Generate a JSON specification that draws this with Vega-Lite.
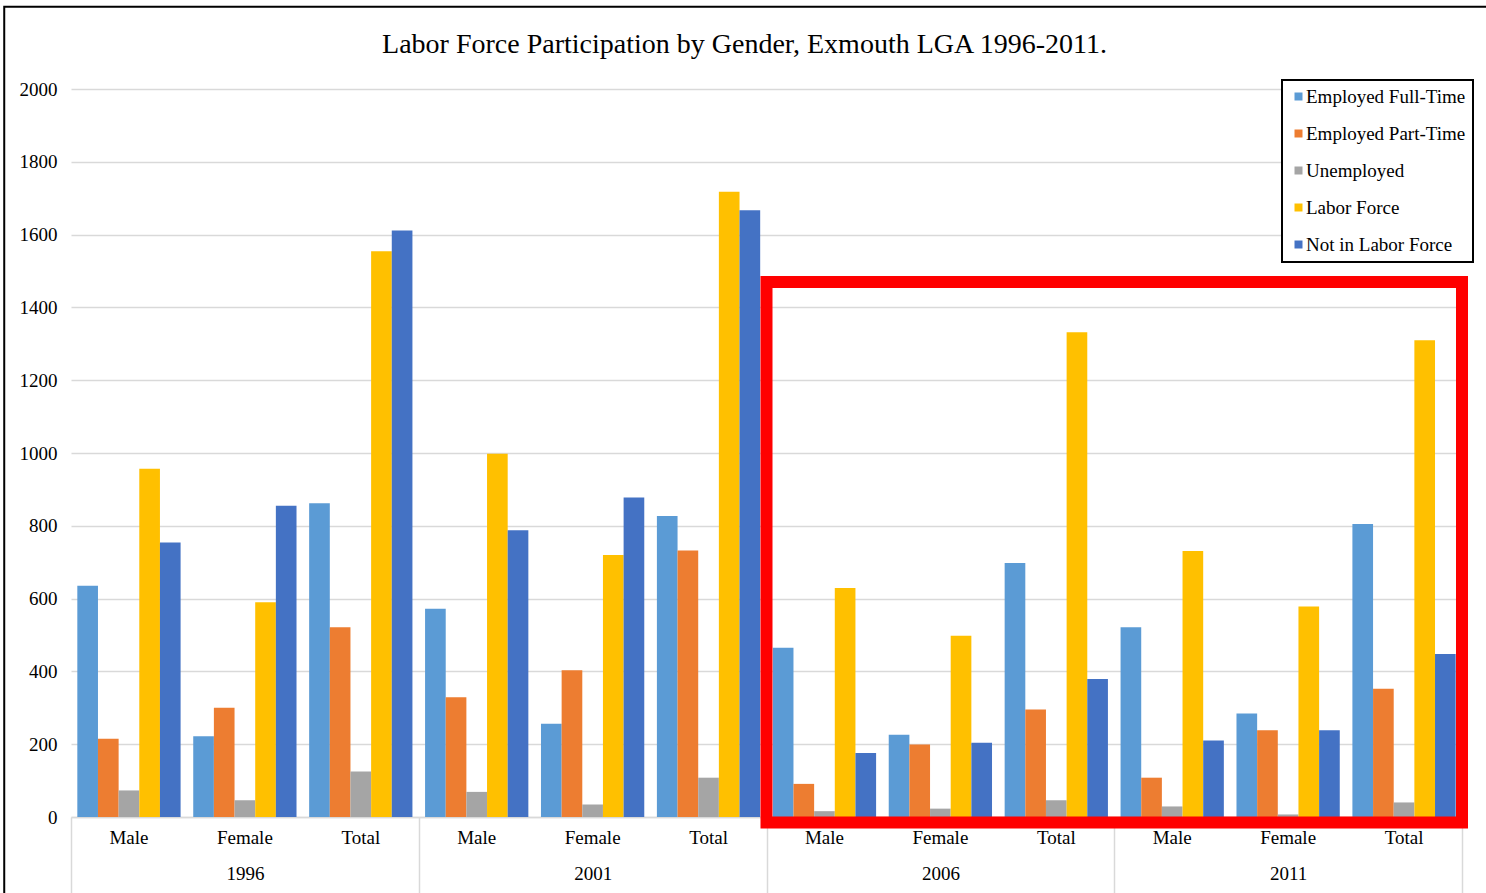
{
  "$schema": "https://vega.github.io/schema/vega-lite/v6.json",
  "autosize": "none",
  "width": 1391,
  "height": 728,
  "padding": {"left": 71, "top": 89, "right": 24, "bottom": 76},
  "background": "white",
  "config": {
    "view": {"stroke": null},
    "font": "Liberation Serif",
    "legend": {"strokeWidth": 2}
  },
  "title": {
    "text": "Labor Force Participation by Gender, Exmouth LGA 1996-2011.",
    "font": "Liberation Serif",
    "fontSize": 28,
    "fontWeight": "normal",
    "color": "black",
    "anchor": "middle",
    "frame": "group",
    "dx": -22,
    "offset": -53
  },
  "layer": [
    {
      "data": {
        "values": [
          {"year": "1996", "gender": "Male", "group": "1996 Male", "series": "Employed Full-Time", "value": 635},
          {"year": "1996", "gender": "Male", "group": "1996 Male", "series": "Employed Part-Time", "value": 215},
          {"year": "1996", "gender": "Male", "group": "1996 Male", "series": "Unemployed", "value": 73},
          {"year": "1996", "gender": "Male", "group": "1996 Male", "series": "Labor Force", "value": 957},
          {"year": "1996", "gender": "Male", "group": "1996 Male", "series": "Not in Labor Force", "value": 754},
          {"year": "1996", "gender": "Female", "group": "1996 Female", "series": "Employed Full-Time", "value": 222},
          {"year": "1996", "gender": "Female", "group": "1996 Female", "series": "Employed Part-Time", "value": 300},
          {"year": "1996", "gender": "Female", "group": "1996 Female", "series": "Unemployed", "value": 46},
          {"year": "1996", "gender": "Female", "group": "1996 Female", "series": "Labor Force", "value": 590},
          {"year": "1996", "gender": "Female", "group": "1996 Female", "series": "Not in Labor Force", "value": 855},
          {"year": "1996", "gender": "Total", "group": "1996 Total", "series": "Employed Full-Time", "value": 862},
          {"year": "1996", "gender": "Total", "group": "1996 Total", "series": "Employed Part-Time", "value": 521},
          {"year": "1996", "gender": "Total", "group": "1996 Total", "series": "Unemployed", "value": 125},
          {"year": "1996", "gender": "Total", "group": "1996 Total", "series": "Labor Force", "value": 1554},
          {"year": "1996", "gender": "Total", "group": "1996 Total", "series": "Not in Labor Force", "value": 1611},
          {"year": "2001", "gender": "Male", "group": "2001 Male", "series": "Employed Full-Time", "value": 572},
          {"year": "2001", "gender": "Male", "group": "2001 Male", "series": "Employed Part-Time", "value": 329},
          {"year": "2001", "gender": "Male", "group": "2001 Male", "series": "Unemployed", "value": 69},
          {"year": "2001", "gender": "Male", "group": "2001 Male", "series": "Labor Force", "value": 998},
          {"year": "2001", "gender": "Male", "group": "2001 Male", "series": "Not in Labor Force", "value": 788},
          {"year": "2001", "gender": "Female", "group": "2001 Female", "series": "Employed Full-Time", "value": 256},
          {"year": "2001", "gender": "Female", "group": "2001 Female", "series": "Employed Part-Time", "value": 403},
          {"year": "2001", "gender": "Female", "group": "2001 Female", "series": "Unemployed", "value": 34},
          {"year": "2001", "gender": "Female", "group": "2001 Female", "series": "Labor Force", "value": 720},
          {"year": "2001", "gender": "Female", "group": "2001 Female", "series": "Not in Labor Force", "value": 878},
          {"year": "2001", "gender": "Total", "group": "2001 Total", "series": "Employed Full-Time", "value": 827},
          {"year": "2001", "gender": "Total", "group": "2001 Total", "series": "Employed Part-Time", "value": 732},
          {"year": "2001", "gender": "Total", "group": "2001 Total", "series": "Unemployed", "value": 108},
          {"year": "2001", "gender": "Total", "group": "2001 Total", "series": "Labor Force", "value": 1718},
          {"year": "2001", "gender": "Total", "group": "2001 Total", "series": "Not in Labor Force", "value": 1667},
          {"year": "2006", "gender": "Male", "group": "2006 Male", "series": "Employed Full-Time", "value": 465},
          {"year": "2006", "gender": "Male", "group": "2006 Male", "series": "Employed Part-Time", "value": 91},
          {"year": "2006", "gender": "Male", "group": "2006 Male", "series": "Unemployed", "value": 16},
          {"year": "2006", "gender": "Male", "group": "2006 Male", "series": "Labor Force", "value": 629},
          {"year": "2006", "gender": "Male", "group": "2006 Male", "series": "Not in Labor Force", "value": 176},
          {"year": "2006", "gender": "Female", "group": "2006 Female", "series": "Employed Full-Time", "value": 226},
          {"year": "2006", "gender": "Female", "group": "2006 Female", "series": "Employed Part-Time", "value": 199},
          {"year": "2006", "gender": "Female", "group": "2006 Female", "series": "Unemployed", "value": 23},
          {"year": "2006", "gender": "Female", "group": "2006 Female", "series": "Labor Force", "value": 498},
          {"year": "2006", "gender": "Female", "group": "2006 Female", "series": "Not in Labor Force", "value": 204},
          {"year": "2006", "gender": "Total", "group": "2006 Total", "series": "Employed Full-Time", "value": 698},
          {"year": "2006", "gender": "Total", "group": "2006 Total", "series": "Employed Part-Time", "value": 295},
          {"year": "2006", "gender": "Total", "group": "2006 Total", "series": "Unemployed", "value": 46},
          {"year": "2006", "gender": "Total", "group": "2006 Total", "series": "Labor Force", "value": 1332},
          {"year": "2006", "gender": "Total", "group": "2006 Total", "series": "Not in Labor Force", "value": 379},
          {"year": "2011", "gender": "Male", "group": "2011 Male", "series": "Employed Full-Time", "value": 521},
          {"year": "2011", "gender": "Male", "group": "2011 Male", "series": "Employed Part-Time", "value": 108},
          {"year": "2011", "gender": "Male", "group": "2011 Male", "series": "Unemployed", "value": 29},
          {"year": "2011", "gender": "Male", "group": "2011 Male", "series": "Labor Force", "value": 731},
          {"year": "2011", "gender": "Male", "group": "2011 Male", "series": "Not in Labor Force", "value": 210},
          {"year": "2011", "gender": "Female", "group": "2011 Female", "series": "Employed Full-Time", "value": 284},
          {"year": "2011", "gender": "Female", "group": "2011 Female", "series": "Employed Part-Time", "value": 238},
          {"year": "2011", "gender": "Female", "group": "2011 Female", "series": "Unemployed", "value": 7},
          {"year": "2011", "gender": "Female", "group": "2011 Female", "series": "Labor Force", "value": 578},
          {"year": "2011", "gender": "Female", "group": "2011 Female", "series": "Not in Labor Force", "value": 238},
          {"year": "2011", "gender": "Total", "group": "2011 Total", "series": "Employed Full-Time", "value": 805},
          {"year": "2011", "gender": "Total", "group": "2011 Total", "series": "Employed Part-Time", "value": 352},
          {"year": "2011", "gender": "Total", "group": "2011 Total", "series": "Unemployed", "value": 40},
          {"year": "2011", "gender": "Total", "group": "2011 Total", "series": "Labor Force", "value": 1310},
          {"year": "2011", "gender": "Total", "group": "2011 Total", "series": "Not in Labor Force", "value": 448}
        ]
      },
      "mark": {"type": "bar"},
      "encoding": {
        "x": {
          "field": "group",
          "type": "nominal",
          "sort": null,
          "scale": {"paddingInner": 0.109, "paddingOuter": 0.0545},
          "axis": {
            "orient": "bottom",
            "title": null,
            "labelExpr": "split(datum.label, ' ')[1]",
            "labelAngle": 0,
            "labelFont": "Liberation Serif",
            "labelFontSize": 19,
            "labelColor": "black",
            "labelPadding": 11,
            "ticks": false,
            "grid": false,
            "domainColor": "#D9D9D9",
            "domainWidth": 1.5
          }
        },
        "xOffset": {
          "field": "series",
          "type": "nominal",
          "scale": {
            "domain": ["Employed Full-Time", "Employed Part-Time", "Unemployed", "Labor Force", "Not in Labor Force"],
            "paddingInner": 0,
            "paddingOuter": 0
          }
        },
        "y": {
          "field": "value",
          "type": "quantitative",
          "scale": {"domain": [0, 2000], "nice": false},
          "axis": {
            "title": null,
            "values": [0, 200, 400, 600, 800, 1000, 1200, 1400, 1600, 1800, 2000],
            "format": "d",
            "labelFont": "Liberation Serif",
            "labelFontSize": 19,
            "labelColor": "black",
            "labelPadding": 14,
            "ticks": false,
            "domain": false,
            "grid": true,
            "gridColor": "#D9D9D9",
            "gridWidth": 1.5
          }
        },
        "color": {
          "field": "series",
          "type": "nominal",
          "scale": {
            "domain": ["Employed Full-Time", "Employed Part-Time", "Unemployed", "Labor Force", "Not in Labor Force"],
            "range": ["#5B9BD5", "#ED7D31", "#A5A5A5", "#FFC000", "#4472C4"]
          },
          "legend": {
            "title": null,
            "orient": "none",
            "legendX": 1211,
            "legendY": -9,
            "symbolType": "square",
            "symbolSize": 64,
            "symbolStrokeWidth": 0,
            "labelFont": "Liberation Serif",
            "labelFontSize": 19,
            "labelColor": "black",
            "labelOffset": -2,
            "rowPadding": 17,
            "padding": 7,
            "fillColor": "white",
            "strokeColor": "black",
            "labelLimit": 300
          }
        }
      }
    },
    {
      "data": {
        "values": [
          {"year": "1996"},
          {"year": "2001"},
          {"year": "2006"},
          {"year": "2011"}
        ]
      },
      "mark": {"type": "point", "opacity": 0},
      "encoding": {
        "x": {
          "field": "year",
          "type": "nominal",
          "scale": {"type": "band", "paddingInner": 0, "paddingOuter": 0},
          "axis": {
            "orient": "bottom",
            "title": null,
            "labelAngle": 0,
            "labelFont": "Liberation Serif",
            "labelFontSize": 19,
            "labelColor": "black",
            "domain": false,
            "grid": false,
            "ticks": true,
            "tickBand": "extent",
            "tickSize": 76,
            "tickColor": "#D9D9D9",
            "tickWidth": 1.5,
            "labelPadding": -29
          }
        }
      }
    },
    {
      "data": {"values": [{"box": "highlight"}]},
      "mark": {"type": "rect", "fill": null, "fillOpacity": 0, "stroke": "#FF0000", "strokeWidth": 12, "clip": false},
      "encoding": {
        "x": {"datum": 2, "scale": {"domain": [0, 4], "nice": false, "zero": false}, "axis": null},
        "x2": {"datum": 4},
        "y": {"datum": 1470},
        "y2": {"datum": -15}
      }
    },
    {
      "data": {"values": [{"box": "frame"}]},
      "mark": {"type": "rect", "fill": null, "fillOpacity": 0, "stroke": "black", "strokeWidth": 2, "clip": false},
      "encoding": {
        "x": {"datum": -0.192, "scale": {"domain": [0, 4], "nice": false, "zero": false}, "axis": null},
        "x2": {"datum": 4.3},
        "y": {"datum": 2226},
        "y2": {"datum": -400}
      }
    }
  ],
  "resolve": {"scale": {"x": "independent"}}
}
